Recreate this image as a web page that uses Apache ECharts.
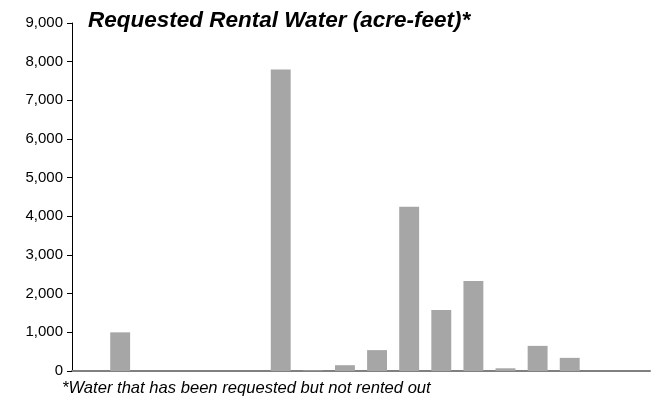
<!DOCTYPE html>
<html>
<head>
<meta charset="utf-8">
<script src="https://cdn.jsdelivr.net/npm/echarts@6/dist/echarts.min.js"></script>
<style>
html,body{margin:0;padding:0;background:#fff;}
#chart{width:661px;height:399px;}
</style>
</head>
<body>
<div id="chart"></div>
<script>
var categories = ['1','2','3','4','5','6','7','8','9','10','11','12','13','14','15','16','17','18'];
var rentalWater = [0, 1000, 0, 0, 0, 0, 7800, 15, 150, 540, 4250, 1580, 2330, 70, 650, 340, 0, 0];
var titleText = 'Requested Rental Water (acre-feet)*';
var footnoteText = '*Water that has been requested but not rented out';

var chart = echarts.init(document.getElementById('chart'), null, {renderer: 'canvas'});
chart.setOption({
  animation: false,
  backgroundColor: '#ffffff',
  title: [{
    text: titleText,
    left: 83, top: 4,
    textStyle: {fontFamily: 'Liberation Sans, Arial, sans-serif', fontSize: 22.5, fontWeight: 'bold', fontStyle: 'italic', color: '#000'}
  }, {
    text: footnoteText,
    left: 57, top: 375,
    textStyle: {fontFamily: 'Liberation Sans, Arial, sans-serif', fontSize: 16.6, fontWeight: 'normal', fontStyle: 'italic', color: '#000'}
  }],
  grid: {left: 72, right: 11, top: 23, bottom: 28, containLabel: false},
  xAxis: {
    type: 'category',
    data: categories,
    axisLine: {lineStyle: {color: '#808080', width: 2}},
    axisTick: {show: false},
    axisLabel: {show: false},
    splitLine: {show: false}
  },
  yAxis: {
    type: 'value',
    min: 0, max: 9000, interval: 1000,
    axisLine: {show: true, lineStyle: {color: '#000', width: 1}},
    axisTick: {show: true, length: 5, lineStyle: {color: '#000'}},
    axisLabel: {
      fontFamily: 'Liberation Sans, Arial, sans-serif', fontSize: 15, color: '#000', margin: 9,
      formatter: function (v) { return v.toLocaleString('en-US'); }
    },
    splitLine: {show: false}
  },
  series: [{
    type: 'bar',
    data: rentalWater,
    barWidth: '62%',
    itemStyle: {color: '#a6a6a6'}
  }]
});
</script>
</body>
</html>
